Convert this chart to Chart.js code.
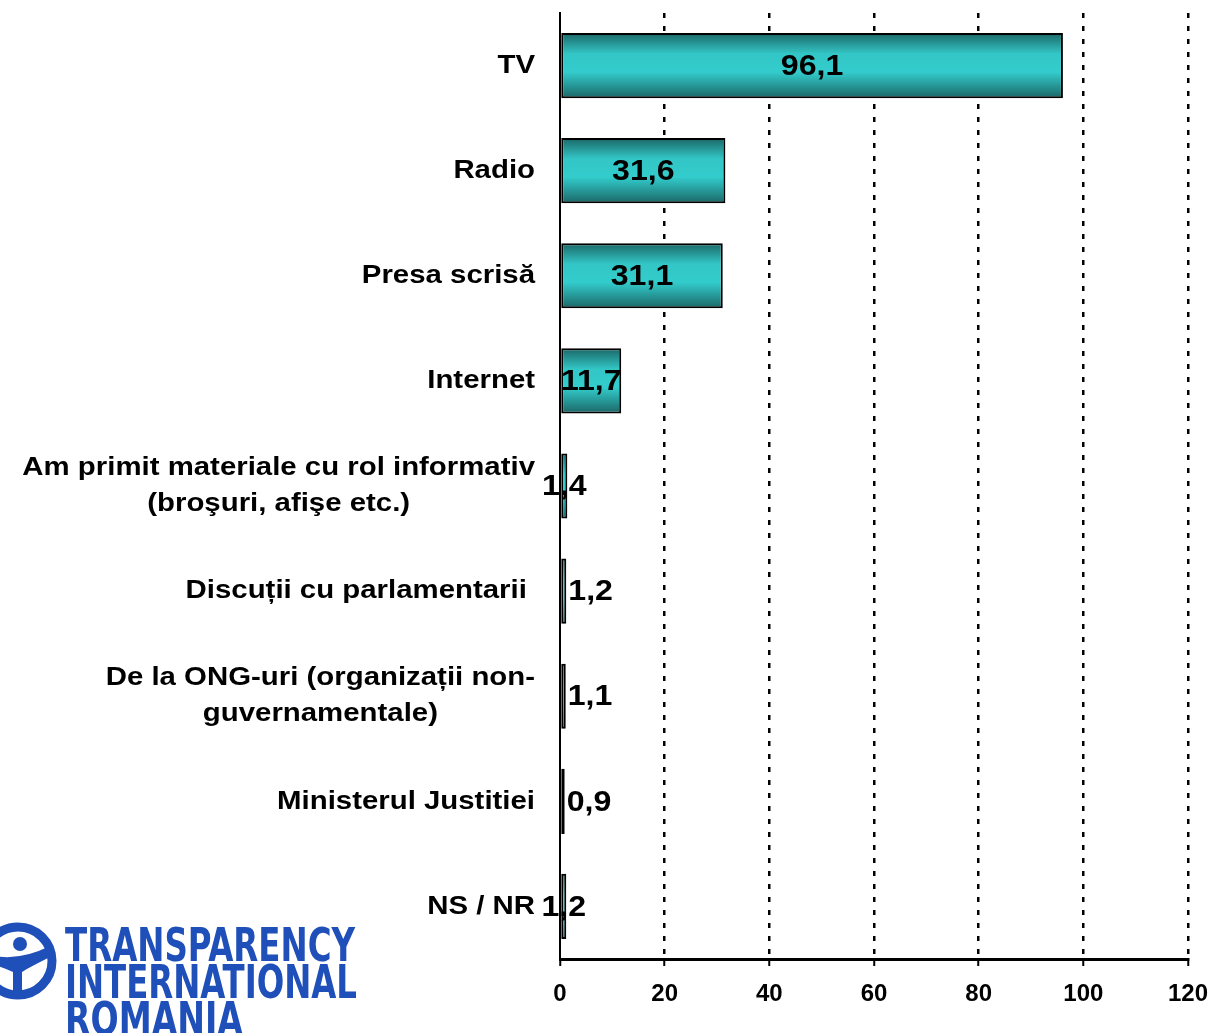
<!DOCTYPE html>
<html>
<head>
<meta charset="utf-8">
<script src="https://cdn.jsdelivr.net/npm/chart.js@4.4.1/dist/chart.umd.min.js"></script>
<style>
  html, body { margin: 0; padding: 0; background: #ffffff; }
  #wrap { position: relative; width: 1211px; height: 1033px; overflow: hidden; }
  #chartBox { position: absolute; left: 0; top: 0; width: 1211px; height: 1033px; }
  #logo { position: absolute; left: 0; top: 918px; width: 370px; height: 115px; }
  .logoLine { position: absolute; left: 65px; color: #1f4fb8; white-space: nowrap;
    font-family: "Liberation Sans Narrow", "DejaVu Sans Condensed", "Liberation Sans", sans-serif;
    font-size: 46px; line-height: 46px; font-weight: bold; transform-origin: 0 0; }
</style>
</head>
<body>
<div id="wrap">
  <div id="chartBox"><canvas id="c"></canvas></div>
  <svg id="logo" width="370" height="115" viewBox="0 918 370 115">
    <circle cx="18" cy="961" r="34" fill="none" stroke="#1f4fb8" stroke-width="9"/>
    <circle cx="20" cy="944" r="7" fill="#1f4fb8"/>
    <path d="M -10 955 Q 18 962 50 946 L 50 957 Q 28 968 22 972 L 22 996 L 13 996 L 13 972 Q 0 966 -10 964 Z" fill="#1f4fb8"/>
  </svg>
  <div class="logoLine" data-w="290" style="top:922px">TRANSPARENCY</div>
  <div class="logoLine" data-w="292" style="top:959px">INTERNATIONAL</div>
  <div class="logoLine" data-w="178" style="top:996px">ROMANIA</div>
</div>
<script>
// ---- data ----
const categories = [
  ["TV"],
  ["Radio"],
  ["Presa scrisă"],
  ["Internet"],
  ["Am primit materiale cu rol informativ", "(broşuri, afişe etc.)"],
  ["Discuții cu parlamentarii "],
  ["De la ONG-uri (organizații non-", "guvernamentale)"],
  ["Ministerul Justitiei"],
  ["NS / NR"]
];
const values = [96.1, 31.6, 31.1, 11.7, 1.4, 1.2, 1.1, 0.9, 1.2];
const xTicks = [0, 20, 40, 60, 80, 100, 120];

// ---- styles (not data) ----
const labelPlacement = ['center','center','center','center','center','after','after','after','center'];
const FONT = '"Liberation Sans", Arial, Helvetica, sans-serif';
const CAT_STRETCH = 1.13;
const VAL_STRETCH = 1.07;

// fit logo lines to their widths
document.querySelectorAll('.logoLine').forEach(el => {
  const w = el.getBoundingClientRect().width;
  const target = +el.dataset.w;
  el.style.transform = 'scaleX(' + (target / w) + ')';
});

function barGradient(ctx) {
  const chart = ctx.chart;
  const ys = chart.scales && chart.scales.y;
  if (!ys || !chart.chartArea || ctx.dataIndex === undefined) return '#33c8c8';
  const yc = ys.getPixelForValue(ctx.dataIndex);
  const band = (chart.chartArea.bottom - chart.chartArea.top) / categories.length;
  const h = band * 0.62 / 2;
  const g = chart.ctx.createLinearGradient(0, yc - h, 0, yc + h);
  g.addColorStop(0, '#1b6666');
  g.addColorStop(0.32, '#33c6c6');
  g.addColorStop(0.6, '#33cccc');
  g.addColorStop(1, '#1b6666');
  return g;
}

function stretchedText(c, txt, x, y, sx, align) {
  const w = c.measureText(txt).width * sx;
  let left = x;
  if (align === 'center') left = x - w / 2;
  else if (align === 'right') left = x - w;
  c.save();
  c.translate(left, y);
  c.scale(sx, 1);
  c.textAlign = 'left';
  c.fillText(txt, 0, 0);
  c.restore();
}

const categoryLabelsPlugin = {
  id: 'catLabels',
  afterDraw(chart) {
    const ys = chart.scales.y;
    const c = chart.ctx;
    c.save();
    c.font = 'bold 26px ' + FONT;
    c.fillStyle = '#000';
    c.textBaseline = 'middle';
    const right = 535;
    const lh = 36;
    categories.forEach((lines, i) => {
      const yc = ys.getPixelForValue(i);
      const maxW = Math.max(...lines.map(l => c.measureText(l).width)) * CAT_STRETCH;
      const cx = right - maxW / 2;
      const y0 = yc - (lines.length - 1) * lh / 2;
      lines.forEach((l, k) => stretchedText(c, l, cx, y0 + k * lh, CAT_STRETCH, 'center'));
    });
    c.restore();
  }
};

const valueLabelsPlugin = {
  id: 'valLabels',
  afterDatasetsDraw(chart) {
    const meta = chart.getDatasetMeta(0);
    const c = chart.ctx;
    c.save();
    c.font = 'bold 30px ' + FONT;
    c.fillStyle = '#000';
    c.textBaseline = 'middle';
    meta.data.forEach((bar, i) => {
      const txt = values[i].toFixed(1).replace('.', ',');
      if (labelPlacement[i] === 'after') {
        stretchedText(c, txt, bar.x + 2, bar.y + 1, VAL_STRETCH, 'left');
      } else {
        stretchedText(c, txt, (bar.x + bar.base) / 2, bar.y + 1, VAL_STRETCH, 'center');
      }
    });
    c.restore();
  }
};

new Chart(document.getElementById('c'), {
  type: 'bar',
  data: {
    labels: categories,
    datasets: [{
      data: values,
      backgroundColor: barGradient,
      borderColor: '#000',
      borderWidth: 2,
      borderSkipped: false,
      barPercentage: 0.62,
      categoryPercentage: 1.0
    }]
  },
  options: {
    indexAxis: 'y',
    responsive: true,
    maintainAspectRatio: false,
    animation: false,
    layout: { padding: { top: 13, right: 23, left: 0, bottom: 0 } },
    plugins: { legend: { display: false }, tooltip: { enabled: false } },
    scales: {
      x: {
        min: 0, max: 120,
        afterBuildTicks(scale) { scale.ticks = xTicks.map(v => ({ value: v })); },
        afterFit(scale) { scale.height = 74; scale.paddingRight = 0; scale.paddingLeft = 0; },
        border: { display: true, color: '#000', width: 3, dash: [5, 8] },
        grid: {
          color: (ctx) => (ctx.tick && ctx.tick.value === 0) ? 'rgba(0,0,0,0)' : '#000',
          lineWidth: 2.5,
          drawTicks: true,
          tickLength: 7,
          tickColor: '#000',
          tickWidth: 2,
          tickBorderDash: []
        },
        ticks: {
          color: '#000',
          font: { family: FONT, size: 24, weight: 'bold' },
          padding: 14,
          maxRotation: 0,
          autoSkip: false
        }
      },
      y: {
        afterFit(scale) { scale.width = 560; },
        border: { display: true, color: '#000', width: 2 },
        grid: { display: false },
        ticks: { display: false }
      }
    }
  },
  plugins: [categoryLabelsPlugin, valueLabelsPlugin]
});
</script>
</body>
</html>
